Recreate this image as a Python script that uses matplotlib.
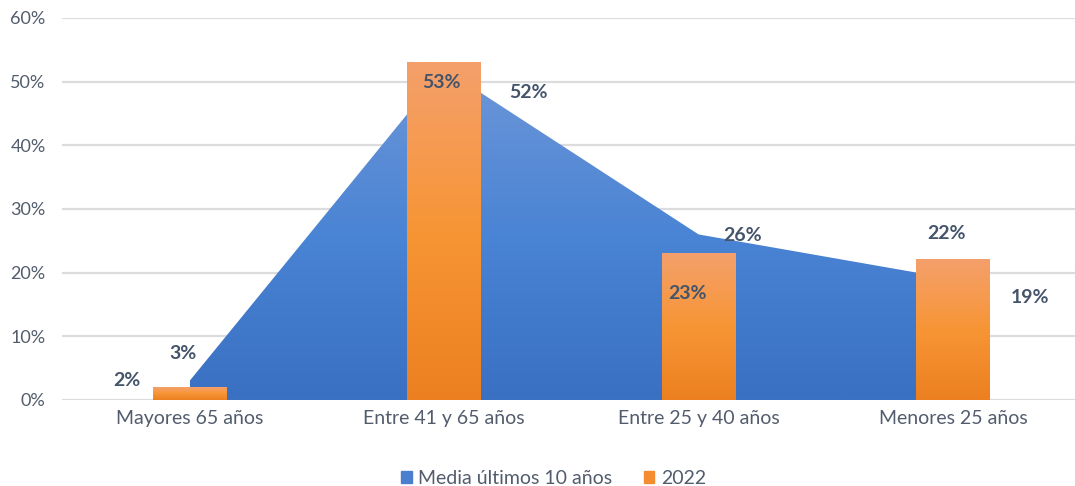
import numpy as np
import matplotlib.pyplot as plt
from matplotlib.patches import Patch
from matplotlib.colors import LinearSegmentedColormap

plt.rcParams['font.family'] = ['Lato', 'DejaVu Sans']

categories = ['Mayores 65 años', 'Entre 41 y 65 años', 'Entre 25 y 40 años', 'Menores 25 años']
media_10 = [3, 52, 26, 19]      # area series, %
year_2022 = [2, 53, 23, 22]     # bar series, %
yticks = [0, 10, 20, 30, 40, 50, 60]

# label offsets in pixels (dx, dy) from the data point
bar_offsets = [(-63, 7), (-3, -20), (-11, -40), (-7, 26)]
area_offsets = [(-7, 27), (84, -24), (44, -1), (77, -18)]

text_col = '#44546a'
tick_col = '#525c6c'
blue_cmap = LinearSegmentedColormap.from_list('b', ['#3a70c2', '#4a84d4', '#6d96d8'])
orange_cmap = LinearSegmentedColormap.from_list('o', ['#ec8020', '#f79535', '#f4a06c'])

fig = plt.figure(figsize=(10.75, 4.86), dpi=100)
ax = fig.add_axes([0.058, 0.177, 0.947, 0.786])
x = np.arange(len(categories))
grad = np.linspace(0, 1, 256).reshape(-1, 1)

# area with vertical gradient
poly = ax.fill_between(x, media_10, 0, color='none', lw=0, zorder=2)
im = ax.imshow(grad, cmap=blue_cmap, origin='lower', aspect='auto',
               extent=[x[0], x[-1], 0, max(media_10)], zorder=2)
im.set_clip_path(poly.get_paths()[0], transform=ax.transData)

# bars with vertical gradient
bw = 0.29
for xi, v in zip(x, year_2022):
    ax.imshow(grad, cmap=orange_cmap, origin='lower', aspect='auto',
              extent=[xi - bw / 2, xi + bw / 2, 0, v], zorder=3)

ax.set_xlim(-0.5, 3.5)
ax.set_ylim(0, 60)
ax.set_yticks(yticks)
ax.set_yticklabels([f'{t}%' for t in yticks])
ax.set_xticks(x)
ax.set_xticklabels(categories)
ax.grid(axis='y', color='#dcdcdc', lw=1.6, zorder=0)
ax.axhline(0, color='#d9d9d9', lw=2, zorder=1)
for s in ax.spines.values():
    s.set_visible(False)
ax.tick_params(length=0, labelsize=14, colors=tick_col, pad=7)
ax.tick_params(axis='y', labelsize=13, pad=12)

for xi, v, (dx, dy) in zip(x, year_2022, bar_offsets):
    ax.annotate(f'{v}%', (xi, v), xytext=(dx * 0.72, dy * 0.72), textcoords='offset points',
                ha='center', va='center', fontsize=14, fontweight='bold', color=text_col, zorder=5)
for xi, v, (dx, dy) in zip(x, media_10, area_offsets):
    ax.annotate(f'{v}%', (xi, v), xytext=(dx * 0.72, dy * 0.72), textcoords='offset points',
                ha='center', va='center', fontsize=14, fontweight='bold', color=text_col, zorder=5)

handles = [Patch(color='#4a7fd0', label='Media últimos 10 años'),
           Patch(color='#f38d30', label='2022')]
fig.legend(handles=handles, loc='center', bbox_to_anchor=(0.515, 0.016), ncol=2, frameon=False,
           fontsize=14, labelcolor=tick_col, handlelength=0.55, handleheight=0.55,
           handletextpad=0.35, columnspacing=1.6)

fig.savefig('out.png', dpi=100)
